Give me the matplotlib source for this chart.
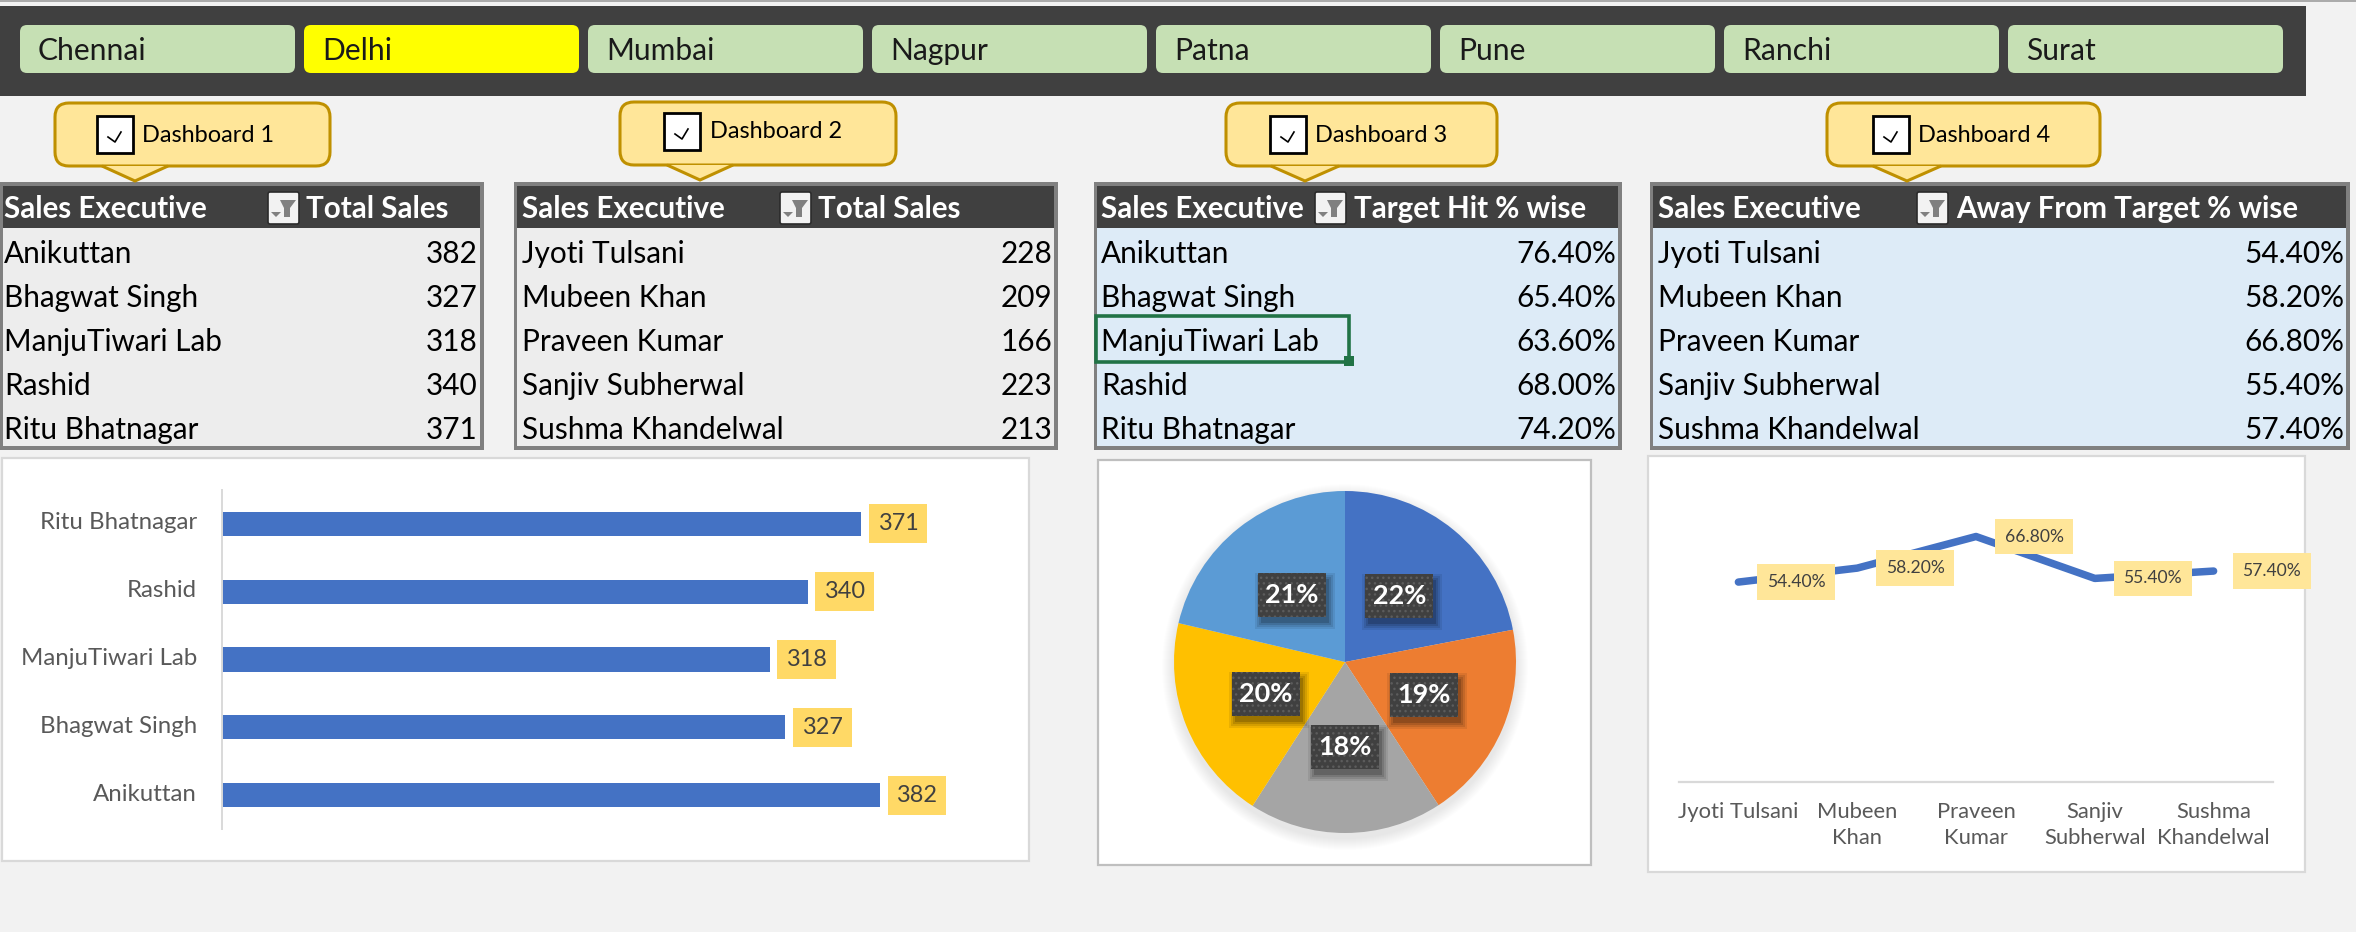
import matplotlib
matplotlib.use("Agg")
from matplotlib import pyplot as plt
from matplotlib.patches import Rectangle, FancyBboxPatch, Polygon, Circle
from matplotlib.transforms import IdentityTransform, ScaledTranslation

plt.rcParams["font.family"] = ["Lato", "DejaVu Sans"]
plt.rcParams["hatch.linewidth"] = 1.0

W, H = 2356, 932
DPI = 100

cities = ["Chennai", "Delhi", "Mumbai", "Nagpur", "Patna", "Pune", "Ranchi", "Surat"]
selected_city = "Delhi"

dash_names = ["Dashboard 1", "Dashboard 2", "Dashboard 3", "Dashboard 4"]

group_a = ["Anikuttan", "Bhagwat Singh", "ManjuTiwari Lab", "Rashid", "Ritu Bhatnagar"]
group_b = ["Jyoti Tulsani", "Mubeen Khan", "Praveen Kumar", "Sanjiv Subherwal", "Sushma Khandelwal"]
sales_a = [382, 327, 318, 340, 371]
sales_b = [228, 209, 166, 223, 213]
target_hit = [76.4, 65.4, 63.6, 68.0, 74.2]
away_target = [54.4, 58.2, 66.8, 55.4, 57.4]
line_ticks = ["Jyoti Tulsani", "Mubeen\nKhan", "Praveen\nKumar", "Sanjiv\nSubherwal", "Sushma\nKhandelwal"]

pie_colors = ["#4472C4", "#ED7D31", "#A5A5A5", "#FFC000", "#5B9BD5"]


def px(size):
    return size * 72 / DPI


def axes_at(x0, y0, x1, y1, **kw):
    # pixel box, y measured from the top of the picture
    return fig.add_axes([x0 / W, 1 - y1 / H, (x1 - x0) / W, (y1 - y0) / H], **kw)


fig = plt.figure(figsize=(W / DPI, H / DPI), dpi=DPI, facecolor="#F2F2F2")
bg = axes_at(0, 0, W, H)
bg.set_xlim(0, W)
bg.set_ylim(H, 0)
bg.axis("off")


def rect(x0, y0, x1, y1, color, ec="none", lw=0, z=1):
    bg.add_patch(Rectangle((x0, y0), x1 - x0, y1 - y0, facecolor=color, edgecolor=ec, linewidth=lw, zorder=z))


def rounded(x0, y0, x1, y1, r, color, ec="none", lw=0, z=2):
    bg.add_patch(FancyBboxPatch((x0 + r, y0 + r), x1 - x0 - 2 * r, y1 - y0 - 2 * r,
                                boxstyle=f"round,pad={r},rounding_size={r}",
                                facecolor=color, edgecolor=ec, linewidth=lw, zorder=z))


# top strip and slicer
rect(0, 0, W, 2, "#ABABAB")
rect(0, 6, 2306, 96, "#404040")
for i, city in enumerate(cities):
    x0 = 20 + 284 * i
    rounded(x0, 25, x0 + 275, 73, 7, "#FFFF00" if city == selected_city else "#C6E0B4")
    bg.text(x0 + 18, 51, city, fontsize=px(30), va="center", color="#1A1A1A", zorder=3)

# callouts above the tables
callouts = [
    (55, 330, 103, 166, 102, 168, 135, 181, 97, 116, 142),
    (620, 896, 102, 165, 667, 733, 700, 180, 664, 113, 710),
    (1226, 1497, 103, 166, 1271, 1339, 1305, 181, 1270, 116, 1315),
    (1827, 2100, 103, 166, 1873, 1941, 1907, 181, 1873, 116, 1918),
]
for name, c in zip(dash_names, callouts):
    x0, x1, y0, y1, b0, b1, tip_x, tip_y, box_x, box_y, text_x = c
    rounded(x0, y0, x1, y1, 14, "#FFE699", ec="#BF9000", lw=2.2, z=2)
    bg.add_patch(Polygon([(b0, y1), (tip_x, tip_y), (b1, y1)], closed=False, facecolor="#FFE699",
                         edgecolor="#BF9000", linewidth=2.2, zorder=3))
    bg.add_patch(Rectangle((box_x, box_y), 36, 37, facecolor="white", edgecolor="black", linewidth=2, zorder=4))
    bg.plot([box_x + 11, box_x + 18, box_x + 24], [box_y + 21, box_y + 26, box_y + 16], color="black", lw=1.2, zorder=5)
    bg.text(text_x, box_y + 19, name, fontsize=px(23.5), va="center", color="black", zorder=5)


def filter_button(x, y=192):
    rounded(x, y, x + 31, y + 32, 2, "#F2F2F2", ec="#2B2B2B", lw=1.2, z=4)
    bg.add_patch(Polygon([(x + 12, y + 8), (x + 28, y + 8), (x + 22, y + 16), (x + 22, y + 25),
                          (x + 16, y + 25), (x + 16, y + 16)], facecolor="#808080", zorder=5))
    bg.add_patch(Polygon([(x + 3, y + 20), (x + 13, y + 20), (x + 8, y + 25)], facecolor="#808080", zorder=5))


def table(x0, x1, names, values, fill, metric, sales_x, button_x, metric_x):
    rect(x0, 182, x1, 450, "#808080", z=1)
    rect(x0 + 3, 186, x1 - 4, 446, fill, z=2)
    rect(x0 + 3, 186, x1 - 4, 228, "#404040", z=3)
    bg.text(sales_x, 209, "Sales Executive", fontsize=px(29.5), fontweight="bold", color="white", va="center", zorder=4)
    filter_button(button_x)
    bg.text(metric_x, 209, metric, fontsize=px(29.5), fontweight="bold", color="white", va="center", zorder=4)
    for i, (name, val) in enumerate(zip(names, values)):
        y = 254 + 44 * i
        bg.text(sales_x, y, name, fontsize=px(29.7), color="black", va="center", zorder=4)
        bg.text(x1 - 6, y, val, fontsize=px(29.7), color="black", va="center", ha="right", zorder=4)


table(0, 484, group_a, sales_a, "#EDEDED", "Total Sales", 4, 268, 306)
table(514, 1058, group_b, sales_b, "#EDEDED", "Total Sales", 522, 780, 818)
table(1094, 1622, group_a, [f"{v:.2f}%" for v in target_hit], "#DDEBF7", "Target Hit % wise", 1101, 1315, 1354)
table(1650, 2350, group_b, [f"{v:.2f}%" for v in away_target], "#DDEBF7", "Away From Target % wise", 1658, 1917, 1956)

# active cell
rect(1096, 316, 1349, 362, "none", ec="#217346", lw=2.6, z=5)
rect(1344, 356, 1354, 366, "#217346", z=6)

# chart panels
rect(2, 458, 1029, 861, "white", ec="#D9D9D9", lw=1.6)
rect(1098, 460, 1591, 865, "white", ec="#BFBFBF", lw=1.6)
rect(1648, 456, 2305, 872, "white", ec="#D9D9D9", lw=1.6)

# bar chart
ax_bar = axes_at(222, 490, 1029, 829)
ax_bar.patch.set_visible(False)
bars = ax_bar.barh(group_a, sales_a, height=0.355, color="#4472C4")
ax_bar.set_xlim(0, 807 / 1.7225)
ax_bar.set_ylim(-0.5, 4.5)
for s in ["top", "right", "bottom"]:
    ax_bar.spines[s].set_visible(False)
ax_bar.spines["left"].set_color("#D9D9D9")
ax_bar.spines["left"].set_linewidth(1.4)
ax_bar.set_xticks([])
ax_bar.tick_params(axis="y", length=0, pad=px(25), labelsize=px(24), labelcolor="#595959")
lift = ScaledTranslation(0, px(3) / 72, fig.dpi_scale_trans)
for lbl in ax_bar.get_yticklabels():
    lbl.set_transform(lbl.get_transform() + lift)
for bar, val in zip(bars, sales_a):
    ax_bar.annotate(str(val), (val, bar.get_y() + bar.get_height() / 2), xytext=(px(37), 0),
                    textcoords="offset points", ha="center", va="center", fontsize=px(23.5), color="#404040",
                    bbox=dict(boxstyle="square,pad=0.38", facecolor="#FFD966", edgecolor="none"))

# pie chart
ax_pie = axes_at(1345 - 171, 662 - 171, 1345 + 171, 662 + 171)
ax_pie.axis("off")
for k in range(12):
    ax_pie.add_patch(Circle((0, -0.03), 1 + 0.07 * (12 - k) / 12, facecolor="black", edgecolor="none",
                            alpha=0.008, clip_on=False, zorder=0))
wedges, _, autotexts = ax_pie.pie(target_hit, colors=pie_colors, startangle=90, counterclock=False, radius=1,
                                  autopct="%.0f%%", pctdistance=0.5,
                                  textprops=dict(color="white", fontsize=px(27), fontweight="bold", zorder=6))
ax_pie.set_xlim(-1, 1)
ax_pie.set_ylim(-1, 1)
ax_pie.set_aspect("equal")

# label plates go in screen pixels around the finished text
fig.canvas.draw()
for t in autotexts:
    ext = t.get_window_extent()
    cx, cy = (ext.x0 + ext.x1) / 2, (ext.y0 + ext.y1) / 2
    for grow, alpha in [(6, 0.08), (4, 0.1), (2, 0.12), (0, 0.16)]:
        ax_pie.add_patch(Rectangle((cx - 34 + 3 - grow, cy - 22 - 6 - grow), 68 + 2 * grow, 44 + 2 * grow,
                                   facecolor="black", edgecolor="none", alpha=alpha,
                                   transform=IdentityTransform(), clip_on=False, zorder=3))
    ax_pie.add_patch(Rectangle((cx - 34, cy - 22), 68, 44, facecolor="#404040", edgecolor="#5C5C5C", hatch="...",
                               linewidth=0, transform=IdentityTransform(), clip_on=False, zorder=4))

# line chart
ax_line = axes_at(1679, 488, 2273, 782)
ax_line.patch.set_visible(False)
ax_line.plot(group_b, away_target, color="#4472C4", lw=px(7.5), solid_joinstyle="round", solid_capstyle="round")
ax_line.set_ylim(0, 80)
ax_line.set_xlim(-0.5, 4.5)
for s in ["top", "right", "left"]:
    ax_line.spines[s].set_visible(False)
ax_line.spines["bottom"].set_color("#D9D9D9")
ax_line.spines["bottom"].set_linewidth(1.6)
ax_line.set_yticks([])
ax_line.set_xticks(range(5), line_ticks, linespacing=1.35)
ax_line.tick_params(axis="x", length=0, pad=px(20), labelsize=px(22), labelcolor="#595959")
for i, val in enumerate(away_target):
    ax_line.annotate(f"{val:.2f}%", (i, val), xytext=(px(58), 0), textcoords="offset points",
                     ha="center", va="center", fontsize=px(17.5), color="#404040", annotation_clip=False,
                     bbox=dict(boxstyle="square,pad=0.55", facecolor="#FFE699", edgecolor="none"))

fig.savefig("out.png", dpi=DPI, facecolor=fig.get_facecolor())
